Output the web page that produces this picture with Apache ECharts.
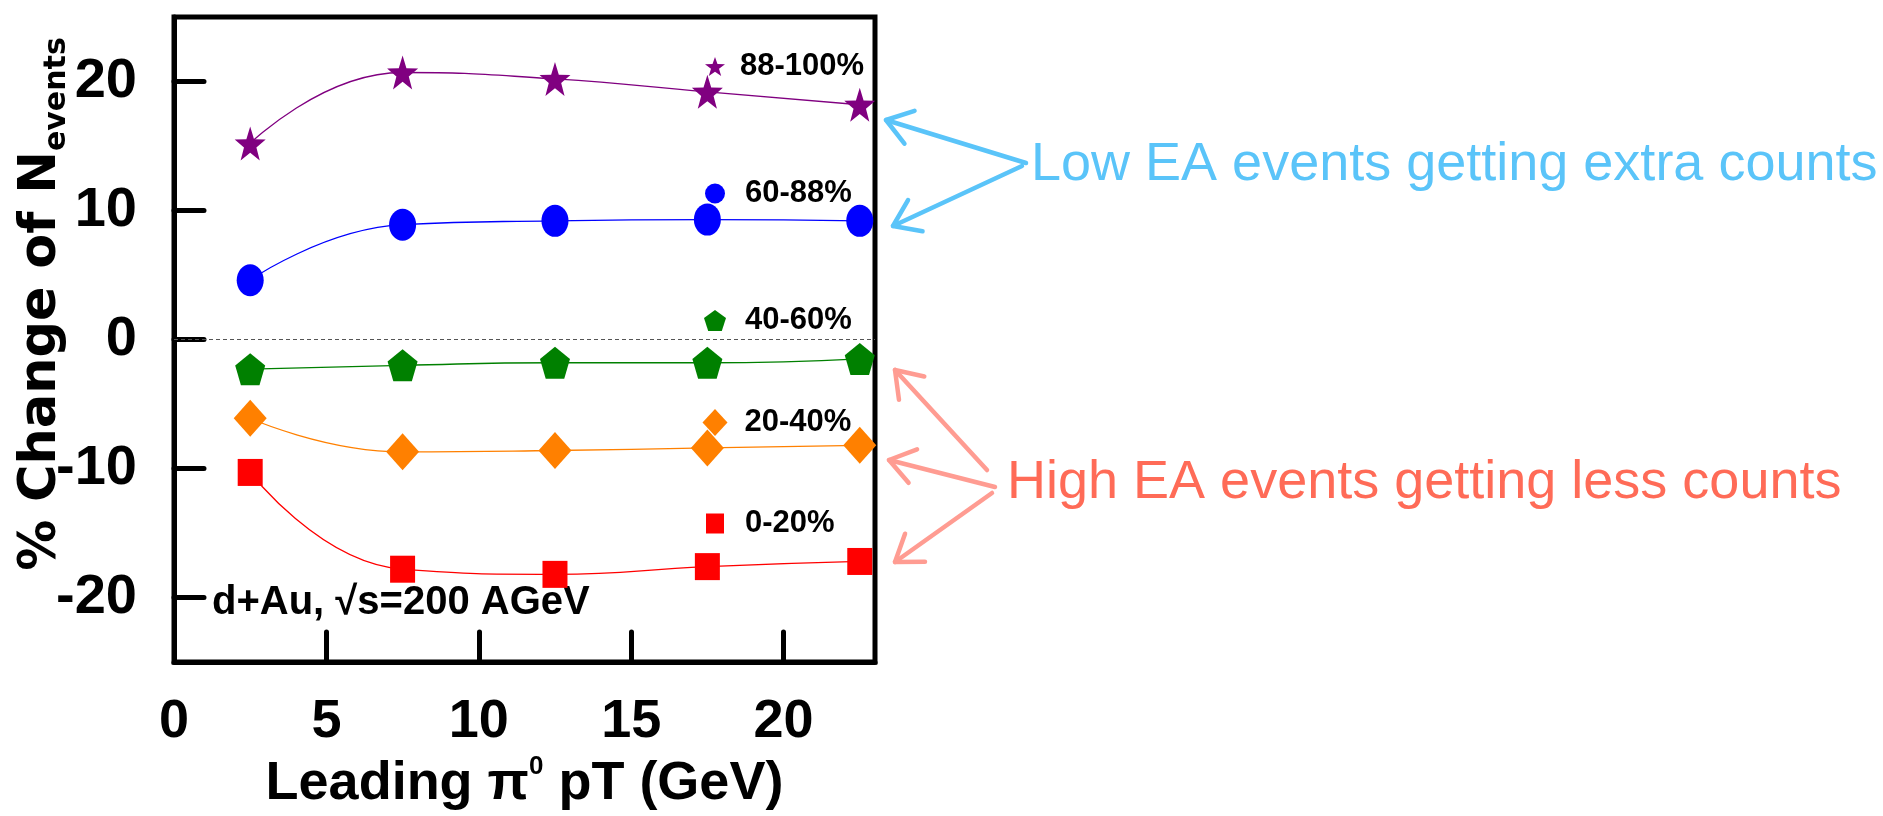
<!DOCTYPE html>
<html>
<head>
<meta charset="utf-8">
<script src="https://cdn.jsdelivr.net/npm/echarts@6/dist/echarts.min.js"></script>
<style>
html,body{margin:0;padding:0;background:#fff;}
#chart{width:1883px;height:816px;}
</style>
</head>
<body>
<div id="chart"></div>
<script>
// ---- data ----
const xVals = [2.5, 7.5, 12.5, 17.5, 22.5];
const names = ['88-100%', '60-88%', '40-60%', '20-40%', '0-20%'];
const s88_100 = [15.2, 20.7, 20.2, 19.2, 18.2];
const s60_88 = [4.6, 8.9, 9.2, 9.3, 9.2];
const s40_60 = [-2.3, -2.0, -1.8, -1.8, -1.5];
const s20_40 = [-6.1, -8.7, -8.6, -8.4, -8.2];
const s0_20 = [-10.3, -17.8, -18.2, -17.6, -17.2];
const xTickValues = [0, 5, 10, 15, 20];
const xInnerTicks = [5, 10, 15, 20];
const yTickValues = [-20, -10, 0, 10, 20];

// ---- styling ----
const FONT = "'Liberation Sans', Arial, Helvetica, sans-serif";
const WIDE = "'DejaVu Sans', 'Liberation Sans', sans-serif";
const STAR = 'path://M50,0 L61.76,33.8 L97.55,34.55 L69.02,56.18 L79.39,90.45 L50,70 L20.61,90.45 L30.98,56.18 L2.45,34.55 L38.24,33.8 Z';
const PENT = 'path://M50,0 L97.55,34.55 L79.39,90.45 L20.61,90.45 L2.45,34.55 Z';
const seriesDefs = [
  {name: names[0], vals: s88_100, color: '#800080', symbol: STAR, size: [31, 34], leg: {cy: 67, w: 20, h: 22, pad: 10}},
  {name: names[1], vals: s60_88, color: '#0000ff', symbol: 'circle', size: [27, 32], leg: {cy: 194, w: 20, h: 23, pad: 15}},
  {name: names[2], vals: s40_60, color: '#008000', symbol: PENT, size: [30, 32], leg: {cy: 321, w: 22, h: 23, pad: 14}},
  {name: names[3], vals: s20_40, color: '#ff8000', symbol: 'diamond', size: [33, 37], leg: {cy: 423, w: 25, h: 27, pad: 12}},
  {name: names[4], vals: s0_20, color: '#ff0000', symbol: 'rect', size: [25, 27], leg: {cy: 524, w: 18, h: 20, pad: 16}}
];

const series = seriesDefs.map(function (d, k) {
  const s = {
    name: d.name,
    type: 'line',
    smooth: 0.5,
    data: xVals.map(function (x, i) { return [x, d.vals[i]]; }),
    symbol: d.symbol,
    symbolSize: d.size,
    itemStyle: {color: d.color},
    lineStyle: {color: d.color, width: 1.3},
    z: 3
  };
  if (k === 0) {
    s.markLine = {
      silent: true,
      symbol: 'none',
      label: {show: false},
      lineStyle: {color: '#555', type: [4, 3], width: 1},
      data: [{yAxis: 0}]
    };
  }
  return s;
});

const legends = seriesDefs.map(function (d) {
  return {
    orient: 'vertical',
    left: 715 - d.leg.w / 2,
    top: d.leg.cy - 16,
    padding: 0,
    itemWidth: d.leg.w,
    itemHeight: d.leg.h,
    selectedMode: false,
    data: [{name: d.name, icon: d.symbol}],
    textStyle: {fontFamily: FONT, fontWeight: 'bold', fontSize: 31, color: '#000', padding: [0, 0, 0, d.leg.pad]}
  };
});

function arrow(tip, tail, color) {
  const dx = tail[0] - tip[0], dy = tail[1] - tip[1];
  const L = Math.sqrt(dx * dx + dy * dy);
  const ux = dx / L, uy = dy / L;
  const a = 35 * Math.PI / 180, len = 30;
  const c = Math.cos(a), s = Math.sin(a);
  const p1 = [tip[0] + len * (ux * c - uy * s), tip[1] + len * (ux * s + uy * c)];
  const p2 = [tip[0] + len * (ux * c + uy * s), tip[1] + len * (-ux * s + uy * c)];
  const st = {stroke: color, lineWidth: 4.5, lineCap: 'round', lineJoin: 'round', fill: null};
  return [
    {type: 'line', shape: {x1: tail[0], y1: tail[1], x2: tip[0], y2: tip[1]}, style: st},
    {type: 'polyline', shape: {points: [p1, tip, p2]}, style: st}
  ];
}

const BLUE = '#5ac4f9';
const SALMON_TXT = '#ff6b57';
const SALMON_ARR = '#ff9c92';

let graphics = [
  {
    type: 'text', x: 212, y: 603,
    style: {text: 'd+Au, \u221As=200 AGeV', fontFamily: FONT, fontWeight: 'bold', fontSize: 40, fill: '#000', align: 'left', verticalAlign: 'middle'}
  },
  {
    type: 'text', x: 1031, y: 165,
    style: {text: 'Low EA events getting extra counts', fontFamily: FONT, fontSize: 54, fill: BLUE, align: 'left', verticalAlign: 'middle'}
  },
  {
    type: 'text', x: 1007, y: 483,
    style: {text: 'High EA events getting less counts', fontFamily: FONT, fontSize: 54, fill: SALMON_TXT, align: 'left', verticalAlign: 'middle'}
  }
];
graphics = graphics
  .concat(arrow([886, 120], [1026, 163], BLUE))
  .concat(arrow([893, 226], [1022, 166], BLUE))
  .concat(arrow([895, 370], [987, 470], SALMON_ARR))
  .concat(arrow([889, 460], [995, 487], SALMON_ARR))
  .concat(arrow([895, 562], [992, 493], SALMON_ARR));

const chart = echarts.init(document.getElementById('chart'), null, {renderer: 'canvas'});
chart.setOption({
  animation: false,
  backgroundColor: '#fff',
  grid: {left: 174, right: 1883 - 875, top: 17, bottom: 816 - 667, show: true, borderColor: '#000', borderWidth: 5, containLabel: false},
  xAxis: {
    type: 'value', min: 0, max: 23,
    axisLine: {show: true, onZero: false, lineStyle: {color: '#000', width: 5}},
    axisTick: {show: true, inside: true, length: 30, customValues: xInnerTicks, lineStyle: {color: '#000', width: 5, cap: 'round'}},
    axisLabel: {customValues: xTickValues, margin: 33, fontFamily: FONT, fontWeight: 'bold', fontSize: 54, color: '#000'},
    splitLine: {show: false},
    name: '{t|Leading \u03C0}{s|0}{t| pT (GeV)}',
    nameLocation: 'middle',
    nameGap: 90,
    nameTextStyle: {
      rich: {
        t: {fontFamily: FONT, fontWeight: 'bold', fontSize: 54, lineHeight: 60, color: '#000'},
        s: {fontFamily: FONT, fontWeight: 'bold', fontSize: 26, lineHeight: 40, verticalAlign: 'top', color: '#000'}
      }
    }
  },
  yAxis: {
    type: 'value', min: -25, max: 25,
    axisLine: {show: true, onZero: false, lineStyle: {color: '#000', width: 5}},
    axisTick: {show: true, inside: true, length: 30, customValues: yTickValues, lineStyle: {color: '#000', width: 5, cap: 'round'}},
    axisLabel: {customValues: yTickValues, margin: 37, fontFamily: FONT, fontWeight: 'bold', fontSize: 56, color: '#000'},
    splitLine: {show: false},
    name: '{a|% Change of N}{b|events}',
    nameLocation: 'middle',
    nameRotate: 90,
    nameGap: 102,
    nameMoveOverlap: false,
    nameTextStyle: {
      padding: [0, 0, 0, 71],
      rich: {
        a: {fontFamily: WIDE, fontWeight: 'bold', fontSize: 51, lineHeight: 60, color: '#000'},
        b: {fontFamily: WIDE, fontWeight: 'bold', fontSize: 30, lineHeight: 24, verticalAlign: 'bottom', color: '#000'}
      }
    }
  },
  legend: legends,
  series: series,
  graphic: graphics
});
</script>
</body>
</html>
